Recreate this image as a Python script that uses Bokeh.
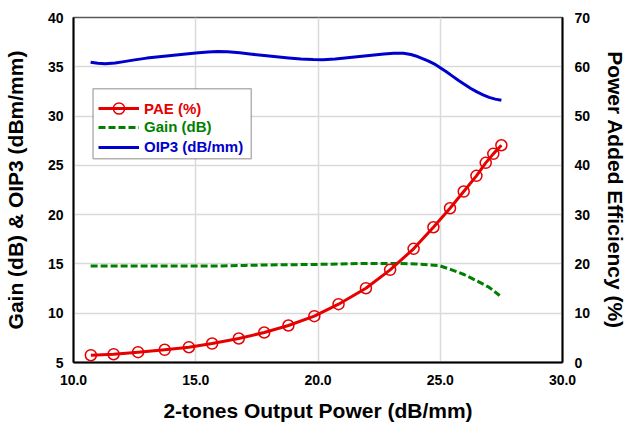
from bokeh.plotting import figure
from bokeh.models import Range1d, LinearAxis, FixedTicker, Legend, LegendItem, BoxAnnotation, NumeralTickFormatter
from bokeh.embed import file_html
from bokeh.resources import INLINE

# ---- data ----
pae_x = [10.71, 11.64, 12.64, 13.73, 14.72, 15.67, 16.76, 17.80, 18.79, 19.85, 20.84,
         21.96, 22.95, 23.91, 24.72, 25.40, 25.96, 26.48, 26.86, 27.17, 27.50]
pae_y = [1.48, 1.68, 2.09, 2.58, 3.10, 3.85, 4.87, 6.09, 7.51, 9.40, 11.83,
         15.07, 18.80, 23.06, 27.44, 31.30, 34.69, 37.87, 40.51, 42.33, 44.08]

gain_x = [10.7, 12.0, 14.0, 16.0, 17.0, 18.0, 20.0, 22.0, 23.0, 24.0, 24.95,
          25.47, 25.97, 26.52, 26.99, 27.43]
gain_y = [14.8, 14.8, 14.8, 14.8, 14.85, 14.9, 14.95, 15.05, 15.05, 15.0, 14.84,
          14.40, 13.93, 13.25, 12.64, 11.80]

oip3_x = [10.7, 11.0, 11.3, 11.7, 12.0, 12.5, 13.0, 13.5, 14.0, 14.5, 15.0, 15.5,
          15.9, 16.3, 16.8, 17.3, 17.8, 18.3, 18.8, 19.3, 19.8, 20.2, 20.7, 21.2,
          21.7, 22.2, 22.7, 23.1, 23.5, 23.8, 24.0, 24.25, 24.5, 24.75, 25.0, 25.25,
          25.5, 25.75, 26.0, 26.25, 26.5, 26.75, 27.0, 27.25, 27.5]
oip3_y = [35.45, 35.35, 35.3, 35.38, 35.5, 35.7, 35.88, 36.02, 36.15, 36.28, 36.4, 36.5,
          36.55, 36.53, 36.42, 36.28, 36.14, 36.02, 35.9, 35.8, 35.73, 35.72, 35.8, 35.92,
          36.05, 36.18, 36.3, 36.38, 36.38, 36.25, 36.1, 35.85, 35.6, 35.3, 34.9, 34.5,
          34.05, 33.6, 33.2, 32.8, 32.45, 32.15, 31.9, 31.72, 31.6]

x_ticks = [10, 15, 20, 25, 30]
left_ticks = [5, 10, 15, 20, 25, 30, 35, 40]
right_ticks = [0, 10, 20, 30, 40, 50, 60, 70]

RED = "#e60000"
GREEN = "#008000"
BLUE = "#0000cc"
FONT = "Liberation Sans"

p = figure(width=632, height=426, output_backend="svg", toolbar_location=None,
           x_range=Range1d(10, 30), y_range=Range1d(5, 40),
           min_border_left=72, min_border_right=70, min_border_top=17, min_border_bottom=64)
p.extra_y_ranges = {"pae": Range1d(0, 70)}

p.outline_line_color = "#595959"
p.outline_line_width = 1.5

def style_axis(ax, label, standoff, title_standoff):
    ax.axis_label = label
    ax.axis_label_text_font = FONT
    ax.axis_label_text_font_style = "bold"
    ax.axis_label_text_font_size = "21px"
    ax.axis_label_text_color = "black"
    ax.axis_label_standoff = title_standoff
    ax.major_label_text_font = FONT
    ax.major_label_text_font_style = "bold"
    ax.major_label_text_font_size = "14px"
    ax.major_label_text_color = "black"
    ax.major_label_standoff = standoff
    ax.major_tick_out = 0
    ax.major_tick_in = 0
    ax.minor_tick_out = 0
    ax.minor_tick_in = 0
    ax.axis_line_color = "black"
    ax.axis_line_width = 2

xa = p.xaxis[0]
xa.ticker = FixedTicker(ticks=x_ticks)
xa.formatter = NumeralTickFormatter(format="0.0")
style_axis(xa, "2-tones Output Power (dB/mm)", 12, 11)

ya = p.yaxis[0]
ya.ticker = FixedTicker(ticks=left_ticks)
style_axis(ya, "Gain (dB) & OIP3 (dBm/mm)", 10, 18)

ra = LinearAxis(y_range_name="pae", ticker=FixedTicker(ticks=right_ticks))
style_axis(ra, "Power Added Efficiency (%)", 12, 11)
p.add_layout(ra, "right")

p.xgrid.ticker = FixedTicker(ticks=x_ticks)
p.ygrid.ticker = FixedTicker(ticks=left_ticks)
for g in (p.xgrid[0], p.ygrid[0]):
    g.grid_line_color = "#dadada"
    g.grid_line_width = 1.5

r_oip3 = p.line(oip3_x, oip3_y, line_color=BLUE, line_width=3, line_join="round")
r_gain = p.line(gain_x, gain_y, line_color=GREEN, line_width=3, line_dash="7 3")
r_pae_l = p.line(pae_x, pae_y, line_color=RED, line_width=3, y_range_name="pae",
                 line_join="round")
r_pae_m = p.scatter(pae_x, pae_y, marker="circle", size=11, line_color=RED, line_width=1.5,
                    fill_color=None, y_range_name="pae")

box = BoxAnnotation(left=10.80, right=17.27, bottom=25.67, top=32.77,
                    fill_color="white", fill_alpha=1.0, line_color="black", line_width=1.5)
p.add_layout(box)

entries = [("PAE (%)", [r_pae_l, r_pae_m], RED, 240, 28),
           ("Gain (dB)", [r_gain], GREEN, 227, 16),
           ("OIP3 (dB/mm)", [r_oip3], BLUE, 207, 16)]
for lbl, rs, col, ypos, gh in entries:
    lg = Legend(items=[LegendItem(label=lbl, renderers=rs)], location=(25, ypos),
                padding=0, margin=0, border_line_color=None, background_fill_alpha=0,
                glyph_width=41, glyph_height=gh, label_height=16, label_standoff=5,
                label_text_font=FONT, label_text_font_style="bold",
                label_text_font_size="15px", label_text_color=col)
    p.add_layout(lg)

open("out.html", "w").write(file_html(p, INLINE))
